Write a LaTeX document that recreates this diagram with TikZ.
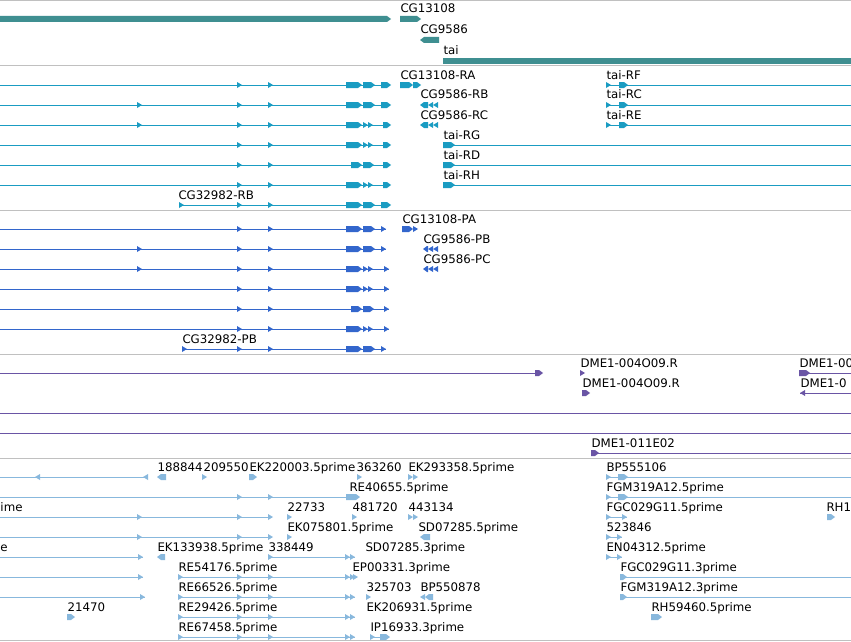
\documentclass[tikz,border=0pt]{standalone}
\usepackage{fontspec}
\setmainfont{DejaVu Sans}
\definecolor{sepgray}{HTML}{C0C0C0}
\definecolor{genec}{HTML}{3F8F91}
\definecolor{trc}{HTML}{1A9CC2}
\definecolor{prc}{HTML}{3366CC}
\definecolor{dmec}{HTML}{6A55A5}
\definecolor{estc}{HTML}{88B8DD}
\newcounter{labc}
% small right / left triangles, exon bars with a tip, intron lines
\newcommand\Rt[2]{\fill (#1,#2-3) -- (#1+5,#2) -- (#1,#2+3) -- cycle;}
\newcommand\Lt[2]{\fill (#1+5,#2-3) -- (#1,#2) -- (#1+5,#2+3) -- cycle;}
\newcommand\Rb[3]{\fill (#1,#2-3) -- (#3-4,#2-3) -- (#3,#2) -- (#3-4,#2+3) -- (#1,#2+3) -- cycle;}
\newcommand\Lb[3]{\fill (#1+4,#2-3) -- (#3,#2-3) -- (#3,#2+3) -- (#1+4,#2+3) -- (#1,#2) -- cycle;}
\newcommand\Ln[3]{\draw (#1,#2) -- (#3,#2);}
\newcommand\Lab[3]{\stepcounter{labc}\node[lab] (lab\arabic{labc}) at (#1,#2-6) {#3};}
% transcript clusters
\newcommand\CluA[1]{\Rb{346}{#1}{362}\Rb{363}{#1}{375}\Rb{381}{#1}{391}}
\newcommand\CluB[1]{\Rb{346}{#1}{362}\Rt{363}{#1}\Rt{368}{#1}\Rb{383}{#1}{391}}
\newcommand\CluC[1]{\Rb{351}{#1}{362}\Rb{363}{#1}{374}\Rb{383}{#1}{391}}
% protein clusters
\newcommand\PCluA[1]{\Rb{346}{#1}{362}\Rb{363}{#1}{375}\Rt{381}{#1}}
\newcommand\PCluB[1]{\Rb{346}{#1}{362}\Rt{363}{#1}\Rt{368}{#1}\Rt{384}{#1}}
\newcommand\PCluC[1]{\Rb{351}{#1}{362}\Rb{363}{#1}{374}\Rt{384}{#1}}
\newcommand\EstTail[1]{\Rt{178}{#1}\Rt{237}{#1}\Rt{268}{#1}\Rt{345}{#1}\Rt{350}{#1}}
\begin{document}
\begin{tikzpicture}[x=1pt,y=-1pt,line width=1pt,
  lab/.style={anchor=base west,inner sep=0pt,text=black,font=\fontsize{11.8}{14}\selectfont},
  sep/.style={draw=sepgray,line width=1pt}]
\useasboundingbox (0,0) rectangle (851,642);
\fill[white] (0,0) rectangle (851,642);
\clip (0,0) rectangle (851,642);
% separators
\foreach \yy in {0.5,66,210,354,458,640.5} \draw[sep] (0,\yy) -- (851,\yy);

% ---------------- gene track
\begin{scope}[color=genec]
\Rb{0}{19}{391}
\Rb{400}{19}{421} \Lab{400}{19}{CG13108}
\Lb{420}{40}{439} \Lab{420}{40}{CG9586}
\fill (443,58) rectangle (851,64); \Lab{443}{61}{tai}
\end{scope}

% ---------------- transcripts
\begin{scope}[color=trc]
\Ln{0}{85}{390} \Rt{237}{85}\Rt{268}{85}\CluA{85}
\Ln{0}{105}{390} \Rt{137}{105}\Rt{237}{105}\Rt{268}{105}\CluA{105}
\Ln{0}{125}{390} \Rt{137}{125}\Rt{237}{125}\Rt{268}{125}\CluB{125}
\Ln{0}{145}{390} \Rt{237}{145}\Rt{268}{145}\CluB{145}
\Ln{0}{165}{390} \Rt{237}{165}\Rt{268}{165}\CluC{165}
\Ln{0}{185}{390} \Rt{237}{185}\Rt{268}{185}\CluB{185}
\Ln{179}{205}{390} \Rt{179}{205}\Rt{237}{205}\Rt{268}{205}\CluA{205}
\Lab{178}{205}{CG32982-RB}
\Rb{400}{85}{413}\Rb{413}{85}{421} \Lab{400}{85}{CG13108-RA}
\Lb{420}{105}{428}\Lt{428}{105}\Lt{433}{105} \Lab{420}{105}{CG9586-RB}
\Lb{420}{125}{428}\Lt{428}{125}\Lt{433}{125} \Lab{420}{125}{CG9586-RC}
\foreach \yy/\nm in {145/tai-RG,165/tai-RD,185/tai-RH}{
  \Ln{443}{\yy}{851}\Rb{443}{\yy}{455} \Lab{443}{\yy}{\nm}}
\foreach \yy/\nm in {85/tai-RF,105/tai-RC,125/tai-RE}{
  \Ln{606}{\yy}{851}\Rt{606}{\yy}\Rb{619}{\yy}{628} \Lab{606}{\yy}{\nm}}
\end{scope}

% ---------------- proteins
\begin{scope}[color=prc]
\Ln{0}{229}{386} \Rt{237}{229}\Rt{268}{229}\PCluA{229}
\Ln{0}{249}{386} \Rt{137}{249}\Rt{237}{249}\Rt{268}{249}\PCluA{249}
\Ln{0}{269}{389} \Rt{137}{269}\Rt{237}{269}\Rt{268}{269}\PCluB{269}
\Ln{0}{289}{389} \Rt{237}{289}\Rt{268}{289}\PCluB{289}
\Ln{0}{309}{389} \Rt{237}{309}\Rt{268}{309}\PCluC{309}
\Ln{0}{329}{389} \Rt{237}{329}\Rt{268}{329}\PCluB{329}
\Ln{182}{349}{386} \Rt{182}{349}\Rt{237}{349}\Rt{268}{349}\PCluA{349}
\Lab{182}{349}{CG32982-PB}
\Rb{402}{229}{413}\Rt{413}{229} \Lab{402}{229}{CG13108-PA}
\Lb{423}{249}{428}\Lt{428}{249}\Lt{433}{249} \Lab{423}{249}{CG9586-PB}
\Lb{423}{269}{428}\Lt{428}{269}\Lt{433}{269} \Lab{423}{269}{CG9586-PC}
\end{scope}

% ---------------- DME track
\begin{scope}[color=dmec]
\Ln{0}{373}{538}\Rb{535}{373}{543}
\Rt{580}{373} \Lab{580}{373}{DME1-004O09.R}
\Rb{582}{393}{590} \Lab{582}{393}{DME1-004O09.R}
\Ln{800}{373}{851}\Rb{799}{373}{810} \Lab{799}{373}{DME1-00}
\Ln{800}{393}{851}\Lt{800}{393} \Lab{800}{393}{DME1-0}
\Ln{0}{413}{851}
\Ln{0}{433}{851}
\Ln{591}{453}{851}\Rb{591}{453}{599} \Lab{591}{453}{DME1-011E02}
\end{scope}

% ---------------- EST track
\begin{scope}[color=estc]
% row 477
\Ln{0}{477}{147}\Lt{35}{477}\Lt{143}{477}
\Lb{157}{477}{166} \Lab{157}{477}{188844}
\Rt{202}{477} \Lab{203}{477}{209550}
\Rb{249}{477}{257} \Lab{249}{477}{EK220003.5prime}
\Rt{357}{477} \Lab{356}{477}{363260}
\Rt{408}{477}\Rt{413}{477} \Lab{408}{477}{EK293358.5prime}
\Ln{606}{477}{851}\Rt{606}{477}\Rb{618}{477}{628} \Lab{606}{477}{BP555106}
% row 497
\Ln{0}{497}{358}\Rt{237}{497}\Rt{268}{497}\Rb{346}{497}{360}
\Lab{349}{497}{RE40655.5prime}
\Ln{606}{497}{851}\Rt{606}{497}\Rb{618}{497}{628} \Lab{606}{497}{FGM319A12.5prime}
% row 517
\Lab{0}{517}{ime}
\Ln{0}{517}{272}\Rt{137}{517}\Rt{237}{517}\Rt{268}{517}
\Rt{287}{517} \Lab{287}{517}{22733}
\Rt{352}{517} \Lab{352}{517}{481720}
\Rt{408}{517}\Rt{413}{517} \Lab{408}{517}{443134}
\Ln{606}{517}{627}\Rt{606}{517}\Rt{622}{517} \Lab{606}{517}{FGC029G11.5prime}
\Rb{827}{517}{835} \Lab{826}{517}{RH1}
% row 537
\Ln{0}{537}{272}\Rt{137}{537}\Rt{237}{537}\Rt{268}{537}
\Rt{287}{537} \Lab{287}{537}{EK075801.5prime}
\Lb{420}{537}{430} \Lab{418}{537}{SD07285.5prime}
\Ln{606}{537}{622}\Rt{606}{537}\Rt{617}{537} \Lab{606}{537}{523846}
% row 557
\Lab{0}{557}{e}
\Ln{0}{557}{143}\Rt{138}{557}
\Lb{157}{557}{165} \Lab{157}{557}{EK133938.5prime}
\Ln{268}{557}{355}\Rt{268}{557}\Rt{345}{557}\Rt{350}{557} \Lab{268}{557}{338449}
\Lab{365}{557}{SD07285.3prime}
\Ln{606}{557}{622}\Rt{606}{557}\Rt{617}{557} \Lab{606}{557}{EN04312.5prime}
% row 577
\Ln{0}{577}{143}\Rt{138}{577}
\Ln{178}{577}{355}\EstTail{577} \Lab{178}{577}{RE54176.5prime}
\Rt{353}{577} \Lab{352}{577}{EP00331.3prime}
\Ln{620}{577}{851}\Rb{620}{577}{627} \Lab{620}{577}{FGC029G11.3prime}
% row 597
\Ln{0}{597}{145}\Rt{140}{597}
\Ln{178}{597}{355}\EstTail{597} \Lab{178}{597}{RE66526.5prime}
\Rt{366}{597} \Lab{366}{597}{325703}
\Lt{420}{597}\Lb{425}{597}{433} \Lab{420}{597}{BP550878}
\Ln{620}{597}{851}\Rb{620}{597}{627} \Lab{620}{597}{FGM319A12.3prime}
% row 617
\Rb{67}{617}{75} \Lab{67}{617}{21470}
\Ln{178}{617}{355}\EstTail{617} \Lab{178}{617}{RE29426.5prime}
\Lab{366}{617}{EK206931.5prime}
\Rb{651}{617}{662} \Lab{651}{617}{RH59460.5prime}
% row 637
\Ln{178}{637}{355}\EstTail{637} \Lab{178}{637}{RE67458.5prime}
\Ln{370}{637}{388}\Rt{370}{637}\Rb{380}{637}{390} \Lab{370}{637}{IP16933.3prime}
\end{scope}
\end{tikzpicture}
\end{document}
